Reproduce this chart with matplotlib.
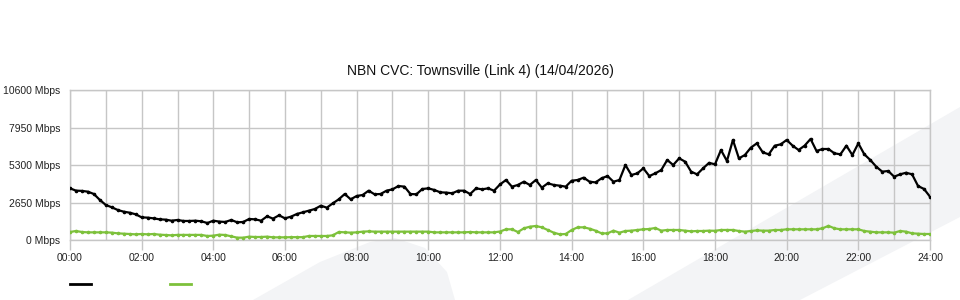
import numpy as np
import matplotlib
matplotlib.use("Agg")
import matplotlib.pyplot as plt
from matplotlib.patches import Polygon
from matplotlib.lines import Line2D

plt.rcParams['font.family'] = ['Liberation Sans', 'DejaVu Sans']

# 10-minute samples, 00:00 .. 24:00 (Mbps)
hours = np.arange(145) / 6.0

inbound = [
    3650, 3490, 3470, 3415, 3250, 2830,
    2475, 2310, 2120, 2000, 1930, 1815,
    1600, 1580, 1530, 1460, 1440, 1365,
    1415, 1345, 1345, 1365, 1320, 1200,
    1365, 1300, 1275, 1415, 1250, 1275,
    1485, 1460, 1365, 1675, 1510, 1745,
    1530, 1650, 1840, 1955, 2075, 2190,
    2425, 2285, 2590, 2875, 3250, 2875,
    3110, 3180, 3485, 3230, 3250, 3485,
    3580, 3815, 3770, 3250, 3230, 3605,
    3650, 3535, 3370, 3350, 3300, 3485,
    3485, 3250, 3650, 3580, 3650, 3485,
    3925, 4240, 3770, 3890, 4120, 3890,
    4240, 3700, 4005, 3890, 3840, 3770,
    4190, 4240, 4405, 4120, 4070, 4360,
    4520, 4120, 4240, 5300, 4595, 4710,
    5065, 4520, 4710, 4945, 5655, 5300,
    5770, 5535, 4830, 4640, 5065, 5450,
    5350, 6360, 5585, 7070, 5770, 6005,
    6525, 6830, 6195, 6055, 6665, 6760,
    7070, 6665, 6360, 6665, 7140, 6290,
    6430, 6430, 6125, 6055, 6665, 6005,
    6830, 6055, 5655, 5180, 4830, 4875,
    4475, 4640, 4755, 4640, 3815, 3605,
    3060,
]

outbound = [
    565, 636, 565, 540, 540, 540,
    540, 520, 470, 447, 424, 400,
    424, 400, 424, 377, 353, 330,
    360, 360, 360, 360, 360, 283,
    306, 377, 353, 259, 165, 165,
    236, 212, 212, 236, 188, 188,
    188, 200, 200, 200, 283, 283,
    283, 283, 330, 565, 540, 520,
    540, 590, 610, 590, 590, 590,
    590, 590, 590, 590, 590, 590,
    590, 540, 540, 540, 540, 540,
    540, 565, 540, 540, 540, 540,
    600, 755, 755, 565, 825, 940,
    990, 895, 707, 518, 400, 424,
    707, 895, 895, 800, 660, 470,
    470, 660, 518, 636, 660, 707,
    755, 777, 850, 660, 707, 707,
    707, 660, 612, 636, 636, 660,
    650, 707, 707, 707, 636, 590,
    636, 680, 660, 660, 707, 707,
    755, 755, 755, 755, 755, 755,
    825, 1000, 825, 755, 755, 755,
    755, 636, 590, 540, 540, 540,
    518, 636, 590, 470, 447, 424,
    424,
]

y_ticks = [0, 2650, 5300, 7950, 10600]
y_labels = [f"{v} Mbps" for v in y_ticks]
x_ticks = list(range(0, 25, 2))
x_labels = [f"{h:02d}:00" for h in x_ticks]
title = "NBN CVC: Townsville (Link 4) (14/04/2026)"

W, H = 960, 300
fig = plt.figure(figsize=(9.6, 3.0), dpi=100)


def px(x, y):
    return (x / W, 1 - y / H)


# faint watermark shapes behind the chart
bg = '#f3f4f6'
shape_a = [px(253, 300), px(320, 262), px(370, 242), px(395, 238),
           px(425, 248), px(447, 272), px(455, 300)]
shape_b = [px(628, 300), px(960, 107), px(960, 217), px(800, 300)]
for pts in (shape_a, shape_b):
    fig.add_artist(Polygon(pts, closed=True, transform=fig.transFigure,
                           facecolor=bg, edgecolor='none', zorder=0))

ax = fig.add_axes([70 / W, 1 - 240 / H, 860 / W, 150 / H])
ax.set_facecolor('none')

grid_c = '#c6c6c6'
ax.plot(hours, inbound, color='black', lw=1.6, marker='o', ms=1.6,
        zorder=3)
ax.plot(hours, outbound, color='#7dc13b', lw=1.6, marker='o', ms=1.6,
        zorder=3)

ax.set_xlim(0, 24)
ax.set_ylim(0, 10600)
ax.set_xticks(x_ticks)
ax.set_xticklabels(x_labels)
ax.set_xticks(range(25), minor=True)
ax.set_yticks(y_ticks)
ax.set_yticklabels(y_labels)

ax.grid(True, which='both', color=grid_c, lw=1.0)
ax.set_axisbelow(True)
for s in ax.spines.values():
    s.set_color(grid_c)
    s.set_linewidth(1.0)

ax.tick_params(axis='x', which='major', length=7, color=grid_c, width=1.0,
               pad=2.5, labelsize=7.5, labelcolor='#222222')
ax.tick_params(axis='x', which='minor', length=0)
ax.tick_params(axis='y', length=0, pad=7, labelsize=7.5,
               labelcolor='#222222')

fig.text(0.5, 1 - 71 / H, title, ha='center', va='center', fontsize=10,
         color='#111111')

# legend handles without text
handles = [Line2D([], [], color='black', lw=2),
           Line2D([], [], color='#7dc13b', lw=2)]
fig.legend(handles, ['', ''], ncol=2, loc='center left',
           bbox_to_anchor=(70 / W, 1 - 285 / H), frameon=False,
           fontsize=8, handlelength=1.9, handletextpad=0,
           columnspacing=7.1, borderpad=0, borderaxespad=0)

fig.savefig("out.png", dpi=100)
